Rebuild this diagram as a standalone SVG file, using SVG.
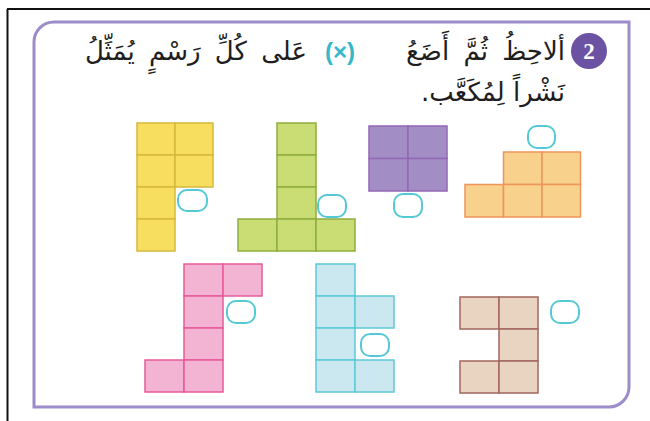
<svg xmlns="http://www.w3.org/2000/svg" width="650" height="421" viewBox="0 0 650 421">
<style>
.ar{font-family:"DejaVu Sans",sans-serif;font-size:26px;fill:#1e1e1e;}
.box{fill:none;stroke:#55c8d6;stroke-width:2;}
.y rect.c{fill:#f8de5e;stroke:#d6b83c;stroke-width:1.5;}
.g rect.c{fill:#cadc74;stroke:#8eae3e;stroke-width:1.5;}
.p rect.c{fill:#a28dc4;stroke:#9468b4;stroke-width:1.5;}
.o rect.c{fill:#f8d18c;stroke:#f0955a;stroke-width:1.5;}
.k rect.c{fill:#f2b4d2;stroke:#e85a9c;stroke-width:1.5;}
.b rect.c{fill:#cbe8f0;stroke:#5cc9d9;stroke-width:1.5;}
.r rect.c{fill:#e8d4c1;stroke:#a3665e;stroke-width:1.5;}
</style>
<rect width="650" height="421" fill="#ffffff"/>
<g id="page-border" stroke="#111" stroke-width="2">
<line x1="7" y1="9" x2="650" y2="9"/>
<line x1="7.5" y1="9" x2="7.5" y2="421"/>
</g>
<path id="frame" d="M34,42 A20,20 0 0 1 54,22 H629 V387 A20,20 0 0 1 609,407 H34 Z" fill="none" stroke="#9d8cca" stroke-width="3"/>
<g id="header">
<circle cx="589" cy="51" r="18" fill="#6b52a3"/>
<text x="589" y="59" text-anchor="middle" font-family="Liberation Serif, serif" font-weight="bold" font-size="23" fill="#fff">2</text>
<text class="ar" x="565" y="60" direction="rtl" text-anchor="start" word-spacing="6">ألاحِظُ ثُمَّ أَضَعُ</text>
<text x="340" y="60" text-anchor="middle" font-family="Liberation Sans, sans-serif" font-weight="bold" font-size="24" fill="#35b8c8">(×)</text>
<text class="ar" x="307" y="60" direction="rtl" text-anchor="start" word-spacing="6">عَلى كُلِّ رَسْمٍ يُمَثِّلُ</text>
<text class="ar" x="565" y="101" direction="rtl" text-anchor="start">نَشْراً لِمُكَعَّب.</text>
</g>
<g id="net-yellow" class="y">
<rect class="c" x="137" y="123" width="38" height="32"/>
<rect class="c" x="175" y="123" width="38" height="32"/>
<rect class="c" x="137" y="155" width="38" height="32"/>
<rect class="c" x="175" y="155" width="38" height="32"/>
<rect class="c" x="137" y="187" width="38" height="32"/>
<rect class="c" x="137" y="219" width="38" height="32"/>
<rect class="box" x="178" y="190" width="29" height="21" rx="9"/>
</g>
<g id="net-green" class="g">
<rect class="c" x="277" y="123" width="39" height="32"/>
<rect class="c" x="277" y="155" width="39" height="32"/>
<rect class="c" x="277" y="187" width="39" height="32"/>
<rect class="c" x="238" y="219" width="39" height="32"/>
<rect class="c" x="277" y="219" width="39" height="32"/>
<rect class="c" x="316" y="219" width="39" height="32"/>
<rect class="box" x="318" y="195" width="28" height="22" rx="9"/>
</g>
<g id="net-purple" class="p">
<rect class="c" x="369" y="126" width="39" height="32.5"/>
<rect class="c" x="408" y="126" width="39" height="32.5"/>
<rect class="c" x="369" y="158.5" width="39" height="32.5"/>
<rect class="c" x="408" y="158.5" width="39" height="32.5"/>
<rect class="box" x="394" y="194" width="28" height="23" rx="9"/>
</g>
<g id="net-orange" class="o">
<rect class="c" x="503.5" y="152" width="38.5" height="32.5"/>
<rect class="c" x="542" y="152" width="38.5" height="32.5"/>
<rect class="c" x="465" y="184.5" width="38.5" height="32.5"/>
<rect class="c" x="503.5" y="184.5" width="38.5" height="32.5"/>
<rect class="c" x="542" y="184.5" width="38.5" height="32.5"/>
<rect class="box" x="528" y="126" width="27" height="22" rx="9"/>
</g>
<g id="net-pink" class="k">
<rect class="c" x="184" y="264" width="39" height="32"/>
<rect class="c" x="223" y="264" width="39" height="32"/>
<rect class="c" x="184" y="296" width="39" height="32"/>
<rect class="c" x="184" y="328" width="39" height="32"/>
<rect class="c" x="145" y="360" width="39" height="32"/>
<rect class="c" x="184" y="360" width="39" height="32"/>
<rect class="box" x="227" y="301" width="28" height="22" rx="9"/>
</g>
<g id="net-cyan" class="b">
<rect class="c" x="316" y="264" width="39" height="32"/>
<rect class="c" x="316" y="296" width="39" height="32"/>
<rect class="c" x="355" y="296" width="39" height="32"/>
<rect class="c" x="316" y="328" width="39" height="32"/>
<rect class="c" x="316" y="360" width="39" height="32"/>
<rect class="c" x="355" y="360" width="39" height="32"/>
<rect class="box" x="361" y="334" width="28" height="22" rx="9"/>
</g>
<g id="net-brown" class="r">
<rect class="c" x="460" y="297" width="39" height="32"/>
<rect class="c" x="499" y="297" width="39" height="32"/>
<rect class="c" x="499" y="329" width="39" height="32"/>
<rect class="c" x="460" y="361" width="39" height="32"/>
<rect class="c" x="499" y="361" width="39" height="32"/>
<rect class="box" x="551" y="301" width="28" height="22" rx="9"/>
</g>
</svg>
